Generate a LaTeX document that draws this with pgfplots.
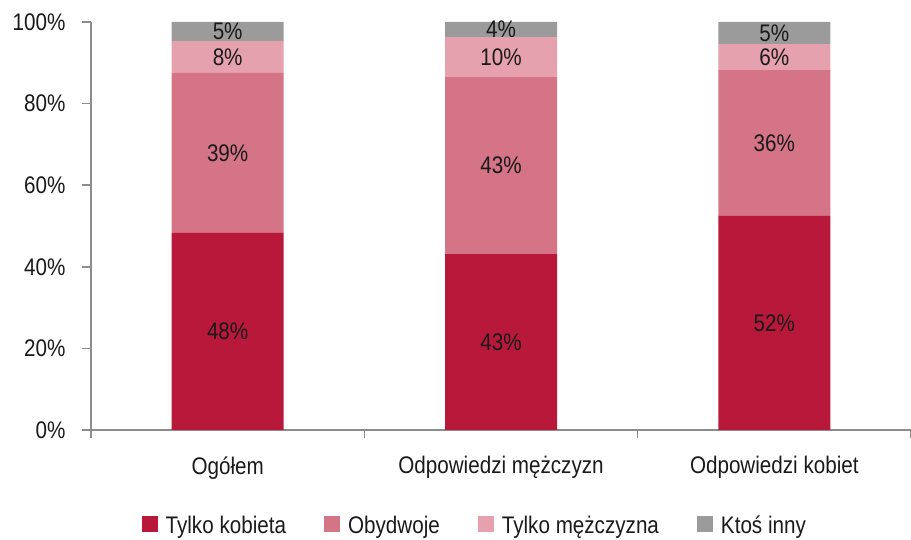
\documentclass[border=0pt]{standalone}
\usepackage{fontspec}
\setmainfont{Liberation Sans}[FakeStretch=0.86]
\usepackage{pgfplots}
\usepackage{pgfplotstable}
\pgfplotsset{compat=1.18}
\definecolor{cA}{HTML}{B8183A}
\definecolor{cB}{HTML}{D47486}
\definecolor{cC}{HTML}{E5A2AE}
\definecolor{cD}{HTML}{9B9B9B}
\definecolor{axgrey}{HTML}{8C8C8C}
\definecolor{txt}{HTML}{1A1A1A}
\pgfplotstableread{
x a b c d la lb lc ld
0 48.3 39.2 7.8 4.7 48 39 8 5
1 43.1 43.4 9.8 3.7 43 43 10 4
2 52.5 35.7 6.4 5.4 52 36 6 5
}\data
\pgfplotsset{
  base/.style={
    at={(0,0)}, anchor=south west,
    scale only axis, width=820pt, height=408pt,
    xmin=-0.5, xmax=2.5, ymin=0, ymax=100,
    font=\fontsize{24}{28}\selectfont, text=txt,
  },
}
\begin{document}
\begin{tikzpicture}
\begin{axis}[base,
  ybar stacked, bar width=112pt,
  axis x line*=bottom, axis y line*=left,
  axis line style={axgrey, line width=1.5pt},
  xtick={0,1,2}, xticklabels={Ogółem,Odpowiedzi mężczyzn,Odpowiedzi kobiet},
  minor xtick={-0.5,0.5,1.5,2.5},
  major x tick style={draw=none},
  minor x tick style={axgrey, line width=1.5pt},
  minor tick length=8pt,
  ytick={0,20,40,60,80,100},
  yticklabels={0\%,20\%,40\%,60\%,80\%,100\%},
  y tick style={axgrey, line width=1.5pt},
  major tick length=9pt,
  tick align=outside,
  xticklabel style={yshift=-14pt},
  yticklabel style={xshift=-13pt},
  legend columns=4,
  legend style={at={(0.468,-0.233)}, anchor=center, draw=none, fill=none,
    font=\fontsize{24}{28}\selectfont,
    /tikz/every odd column/.append style={column sep=6pt},
    /tikz/every even column/.append style={column sep=36pt}},
  legend image code/.code={\fill[#1] (0pt,-7pt) rectangle (16pt,9pt);},
]
\addplot[fill=cA, draw=none] table[x=x, y=a] {\data};
\addplot[fill=cB, draw=none] table[x=x, y=b] {\data};
\addplot[fill=cC, draw=none] table[x=x, y=c] {\data};
\addplot[fill=cD, draw=none] table[x=x, y=d] {\data};
\legend{Tylko kobieta, Obydwoje, Tylko mężczyzna, Ktoś inny}
\end{axis}
\begin{axis}[base, hide axis,
  nodes near coords={\pgfplotspointmeta\%},
  nodes near coords align={center},
  every node near coord/.append style={font=\fontsize{24}{28}\selectfont, text=txt, anchor=center},
  point meta=explicit symbolic,
]
\addplot[only marks, mark=none] table[x=x, y expr=\thisrow{a}/2, meta=la] {\data};
\addplot[only marks, mark=none] table[x=x, y expr=\thisrow{a}+\thisrow{b}/2, meta=lb] {\data};
\addplot[only marks, mark=none] table[x=x, y expr=\thisrow{a}+\thisrow{b}+\thisrow{c}/2, meta=lc] {\data};
\addplot[only marks, mark=none] table[x=x, y expr=\thisrow{a}+\thisrow{b}+\thisrow{c}+\thisrow{d}/2, meta=ld] {\data};
\end{axis}
\pgfresetboundingbox
\path (-91pt,-110pt) rectangle (820pt,430pt);
\end{tikzpicture}
\end{document}
